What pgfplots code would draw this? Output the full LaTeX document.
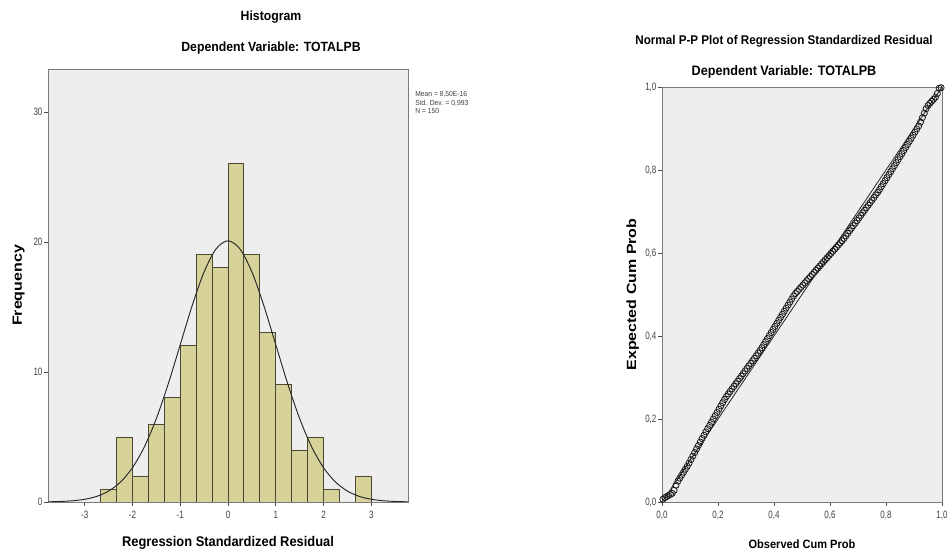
\documentclass[border=0pt]{standalone}
\usepackage{fontspec}
\setmainfont{Liberation Sans}[FakeStretch=0.92]
\newfontfamily\widefont{Liberation Sans}[FakeStretch=1.2]
\newfontfamily\tickfont{Liberation Sans}[FakeStretch=0.75]
\usepackage{pgfplots}
\pgfplotsset{compat=1.18}

\definecolor{barfill}{HTML}{D6D29A}
\definecolor{baredge}{HTML}{4A4A34}
\definecolor{plotbg}{HTML}{EEEEEE}
\definecolor{frame}{HTML}{7A7A7A}

% histogram bins: left edge, count (last row closes the final bin)
\pgfplotstableread{
x     n
-2.6667 1
-2.3333 5
-2.0000 2
-1.6667 6
-1.3333 8
-1.0000 12
-0.6667 19
-0.3333 18
0.0000 26
0.3333 19
0.6667 13
1.0000 9
1.3333 4
1.6667 5
2.0000 1
2.3333 0
2.6667 2
3.0000 2
}\histdata

\begin{document}
\begin{tikzpicture}
\useasboundingbox (0,0) rectangle (710.25pt,416.25pt);

\pgfplotsset{
  spss/.style={
    scale only axis,
    axis background/.style={fill=plotbg},
    axis line style={frame, line width=0.7pt},
    tick style={black!70, line width=0.5pt},
    tick align=outside,
    major tick length=3pt,
    xtick pos=bottom, ytick pos=left,
    tick label style={font=\tickfont\fontsize{8}{9}\selectfont, text=black!75},
    yticklabel style={inner sep=1pt},
    /pgf/number format/assume math mode=true,
    ylabel style={font=\widefont\bfseries\fontsize{10}{11}\selectfont,
      at={(axis description cs:0,0.5)}, anchor=center, yshift=22pt},
  }
}

% ---------- histogram ----------
\begin{axis}[spss,
  at={(36pt,39.75pt)}, anchor=south west,
  width=270pt, height=324.75pt,
  xmin=-3.77, xmax=3.77, ymin=0, ymax=33.3,
  xtick={-3,-2,-1,0,1,2,3}, ytick={0,10,20,30},
  xlabel={Regression Standardized Residual},
  xlabel style={font=\bfseries\fontsize{10.5}{11}\selectfont,
    at={(axis description cs:0.5,0)}, anchor=center, yshift=-30.5pt},
  ylabel={Frequency},
]
\addplot[ybar interval, fill=barfill, draw=baredge, line width=0.7pt] table[x=x, y=n] {\histdata};
\addplot[smooth, black!85, line width=0.7pt] coordinates {
  (-3.77,0.015) (-3.5,0.04) (-3.25,0.095) (-3,0.21) (-2.75,0.43) (-2.5,0.84)
  (-2.25,1.54) (-2,2.64) (-1.75,4.25) (-1.5,6.42) (-1.25,9.10) (-1,12.10)
  (-0.75,15.11) (-0.5,17.70) (-0.25,19.46) (0,20.09) (0.25,19.46) (0.5,17.70)
  (0.75,15.11) (1,12.10) (1.25,9.10) (1.5,6.42) (1.75,4.25) (2,2.64)
  (2.25,1.54) (2.5,0.84) (2.75,0.43) (3,0.21) (3.25,0.095) (3.5,0.04) (3.77,0.015)
};
\end{axis}

\node[font=\bfseries\fontsize{10}{11}\selectfont] at (203.25pt,403.5pt) {Histogram};
\node[font=\bfseries\fontsize{10}{11}\selectfont] at (203.25pt,380.25pt) {Dependent Variable: TOTALPB};
\node[font=\fontsize{5.5}{6.5}\selectfont, text=black!75, anchor=north west, align=left, inner sep=0pt]
  at (311.25pt,348pt) {Mean = 8,50E-16\\Std. Dev. = 0,993\\N = 150};

% ---------- normal P-P plot ----------
\begin{axis}[spss,
  at={(496.5pt,39.75pt)}, anchor=south west,
  width=210pt, height=311.25pt,
  xmin=0, xmax=1, ymin=0, ymax=1,
  xtick={0,0.2,0.4,0.6,0.8,1}, ytick={0,0.2,0.4,0.6,0.8,1},
  /pgf/number format/.cd, use comma, fixed, fixed zerofill, precision=1, /pgfplots/.cd,
  xlabel={Observed Cum Prob},
  xlabel style={font=\bfseries\fontsize{9}{10}\selectfont,
    at={(axis description cs:0.5,0)}, anchor=center, yshift=-32pt},
  ylabel={Expected Cum Prob},
]
\addplot[black!85, line width=0.6pt] coordinates {(0,0) (1,1)};
\addplot[only marks, mark=o, mark size=2.3pt, black!90, mark options={line width=0.6pt}] coordinates {
(0.0033,0.0065) (0.0100,0.0107) (0.0167,0.0132) (0.0233,0.0157) (0.0300,0.0182)
(0.0367,0.0207) (0.0433,0.0282) (0.0500,0.0405) (0.0567,0.0502) (0.0633,0.0574)
(0.0700,0.0646) (0.0767,0.0717) (0.0833,0.0789) (0.0900,0.0861) (0.0967,0.0939)
(0.1033,0.1023) (0.1100,0.1107) (0.1167,0.1191) (0.1233,0.1276) (0.1300,0.1360)
(0.1367,0.1444) (0.1433,0.1528) (0.1500,0.1609) (0.1567,0.1687) (0.1633,0.1766)
(0.1700,0.1844) (0.1767,0.1922) (0.1833,0.2001) (0.1900,0.2079) (0.1967,0.2157)
(0.2033,0.2236) (0.2100,0.2314) (0.2167,0.2392) (0.2233,0.2471) (0.2300,0.2541)
(0.2367,0.2602) (0.2433,0.2664) (0.2500,0.2726) (0.2567,0.2787) (0.2633,0.2849)
(0.2700,0.2910) (0.2767,0.2972) (0.2833,0.3033) (0.2900,0.3095) (0.2967,0.3157)
(0.3033,0.3218) (0.3100,0.3280) (0.3167,0.3341) (0.3233,0.3403) (0.3300,0.3464)
(0.3367,0.3526) (0.3433,0.3588) (0.3500,0.3649) (0.3567,0.3717) (0.3633,0.3790)
(0.3700,0.3863) (0.3767,0.3937) (0.3833,0.4010) (0.3900,0.4083) (0.3967,0.4157)
(0.4033,0.4230) (0.4100,0.4303) (0.4167,0.4377) (0.4233,0.4450) (0.4300,0.4523)
(0.4367,0.4597) (0.4433,0.4670) (0.4500,0.4743) (0.4567,0.4817) (0.4633,0.4890)
(0.4700,0.4963) (0.4767,0.5025) (0.4833,0.5076) (0.4900,0.5127) (0.4967,0.5178)
(0.5033,0.5228) (0.5100,0.5279) (0.5167,0.5330) (0.5233,0.5381) (0.5300,0.5431)
(0.5367,0.5482) (0.5433,0.5533) (0.5500,0.5584) (0.5567,0.5635) (0.5633,0.5685)
(0.5700,0.5736) (0.5767,0.5787) (0.5833,0.5838) (0.5900,0.5888) (0.5967,0.5939)
(0.6033,0.5990) (0.6100,0.6041) (0.6167,0.6091) (0.6233,0.6142) (0.6300,0.6193)
(0.6367,0.6244) (0.6433,0.6295) (0.6500,0.6351) (0.6567,0.6412) (0.6633,0.6474)
(0.6700,0.6536) (0.6767,0.6597) (0.6833,0.6659) (0.6900,0.6720) (0.6967,0.6782)
(0.7033,0.6843) (0.7100,0.6905) (0.7167,0.6967) (0.7233,0.7028) (0.7300,0.7090)
(0.7367,0.7151) (0.7433,0.7213) (0.7500,0.7274) (0.7567,0.7336) (0.7633,0.7398)
(0.7700,0.7459) (0.7767,0.7526) (0.7833,0.7598) (0.7900,0.7670) (0.7967,0.7743)
(0.8033,0.7815) (0.8100,0.7887) (0.8167,0.7960) (0.8233,0.8032) (0.8300,0.8104)
(0.8367,0.8177) (0.8433,0.8249) (0.8500,0.8321) (0.8567,0.8394) (0.8633,0.8467)
(0.8700,0.8542) (0.8767,0.8616) (0.8833,0.8691) (0.8900,0.8765) (0.8967,0.8839)
(0.9033,0.8914) (0.9100,0.8988) (0.9167,0.9063) (0.9233,0.9154) (0.9300,0.9261)
(0.9367,0.9369) (0.9433,0.9476) (0.9500,0.9555) (0.9567,0.9605) (0.9633,0.9655)
(0.9700,0.9705) (0.9767,0.9755) (0.9833,0.9843) (0.9900,0.9970) (0.9967,0.9982)
};
\end{axis}

\node[font=\bfseries\fontsize{9.5}{10}\selectfont] at (588pt,385.5pt) {Normal P-P Plot of Regression Standardized Residual};
\node[font=\bfseries\fontsize{10.3}{11}\selectfont] at (588pt,362.25pt) {Dependent Variable: TOTALPB};
\end{tikzpicture}
\end{document}
